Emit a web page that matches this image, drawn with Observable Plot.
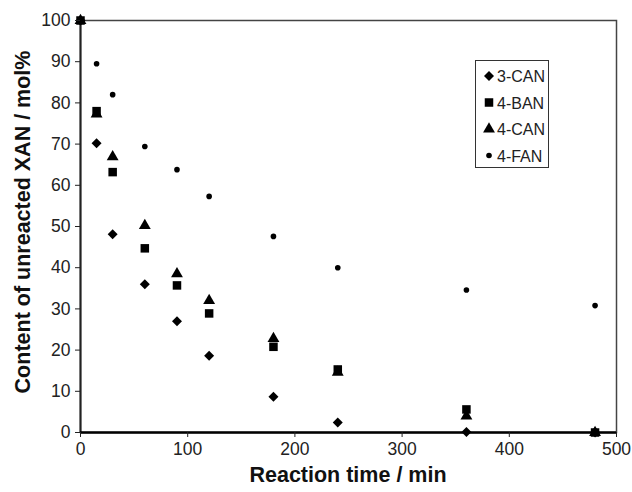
<!DOCTYPE html>
<html>
<head>
<meta charset="utf-8">
<script src="https://cdn.jsdelivr.net/npm/d3@7"></script>
<script src="https://cdn.jsdelivr.net/npm/@observablehq/plot@0.6"></script>
<style>
  body { margin: 0; background: #fff; }
  #wrap { position: relative; width: 632px; height: 492px; font-family: "Liberation Sans", Arial, sans-serif; }
  #legend { position: absolute; left: 475px; top: 60px; width: 74px; height: 108px; border: 1px solid #333; background: #fff; box-sizing: border-box; }
</style>
</head>
<body>
<div id="wrap"><div id="legend"></div></div>
<script>
const times = [0, 15, 30, 60, 90, 120, 180, 240, 360, 480];
const can3 = [100, 70.2, 48.1, 36.0, 27.0, 18.6, 8.7, 2.4, 0.1, 0];
const ban4 = [100, 78.0, 63.2, 44.7, 35.7, 28.9, 20.8, 15.3, 5.6, 0];
const can4 = [100, 77.3, 66.9, 50.2, 38.5, 32.0, 22.8, 14.6, 4.0, 0];
const fan4 = [100, 89.5, 82.0, 69.4, 63.8, 57.3, 47.6, 40.0, 34.6, 30.8];
const seriesNames = ["3-CAN", "4-BAN", "4-CAN", "4-FAN"];
const seriesValues = [can3, ban4, can4, fan4];
const symbols = ["diamond2", "square", "triangle", "circle"];
const radii = [4.5, 4.8, 4.4, 2.8];
const drawOrder = [0, 2, 3, 1];
const xTicks = [0, 100, 200, 300, 400, 500];
const yTicks = [0, 10, 20, 30, 40, 50, 60, 70, 80, 90, 100];

const seriesRows = seriesNames.map((s, i) => times.map((t, j) => ({series: s, t, v: seriesValues[i][j]})));

const plot = Plot.plot({
  width: 632,
  height: 492,
  marginLeft: 80,
  marginRight: 16,
  marginTop: 20,
  marginBottom: 60,
  style: {fontFamily: "Liberation Sans, Arial, sans-serif", fontSize: "17.5px", color: "#222", background: "#fff"},
  x: {domain: [0, 500], label: null},
  y: {domain: [0, 100], label: null},
  marks: [
    Plot.frame({stroke: "#444", strokeWidth: 1.5}),
    Plot.ruleX([0], {stroke: "#222", strokeWidth: 2}),
    Plot.ruleY([0], {stroke: "#000", strokeWidth: 2.5}),
    ...drawOrder.map(i => Plot.dot(seriesRows[i], {x: "t", y: "v", symbol: symbols[i], r: radii[i], fill: "#000", stroke: "none"})),
    Plot.axisX({ticks: xTicks, tickSize: 5, tickPadding: 5, fontSize: 17.5, label: null}),
    Plot.axisY({ticks: yTicks, tickSize: 5, tickPadding: 5, fontSize: 17.5, label: null})
  ]
});
plot.setAttribute("style", (plot.getAttribute("style") || "") + ";position:absolute;left:0;top:0;");
document.getElementById("wrap").prepend(plot);

// Axis titles
const svg = d3.select(plot);
svg.append("text").attr("x", 348).attr("y", 482).attr("text-anchor", "middle")
  .attr("font-weight", "bold").attr("font-size", 21.5).attr("fill", "#111").text("Reaction time / min");
svg.append("text").attr("transform", "translate(30,222) rotate(-90)").attr("text-anchor", "middle")
  .attr("font-weight", "bold").attr("font-size", 21.5).attr("fill", "#111").text("Content of unreacted XAN / mol%");

// Legend
const lg = d3.select("#legend").append("svg").attr("width", 72).attr("height", 106);
const symMap = {diamond2: d3.symbolDiamond2, square: d3.symbolSquare, triangle: d3.symbolTriangle, circle: d3.symbolCircle};
seriesNames.forEach((s, i) => {
  const cy = 15 + i * 26.5;
  lg.append("path").attr("transform", `translate(13,${cy})`)
    .attr("d", d3.symbol(symMap[symbols[i]], Math.PI * radii[i] * radii[i])()).attr("fill", "#000");
  lg.append("text").attr("x", 21).attr("y", cy + 6).attr("font-size", 16)
    .attr("font-family", "Liberation Sans, Arial, sans-serif").attr("fill", "#222").text(s);
});
</script>
</body>
</html>
